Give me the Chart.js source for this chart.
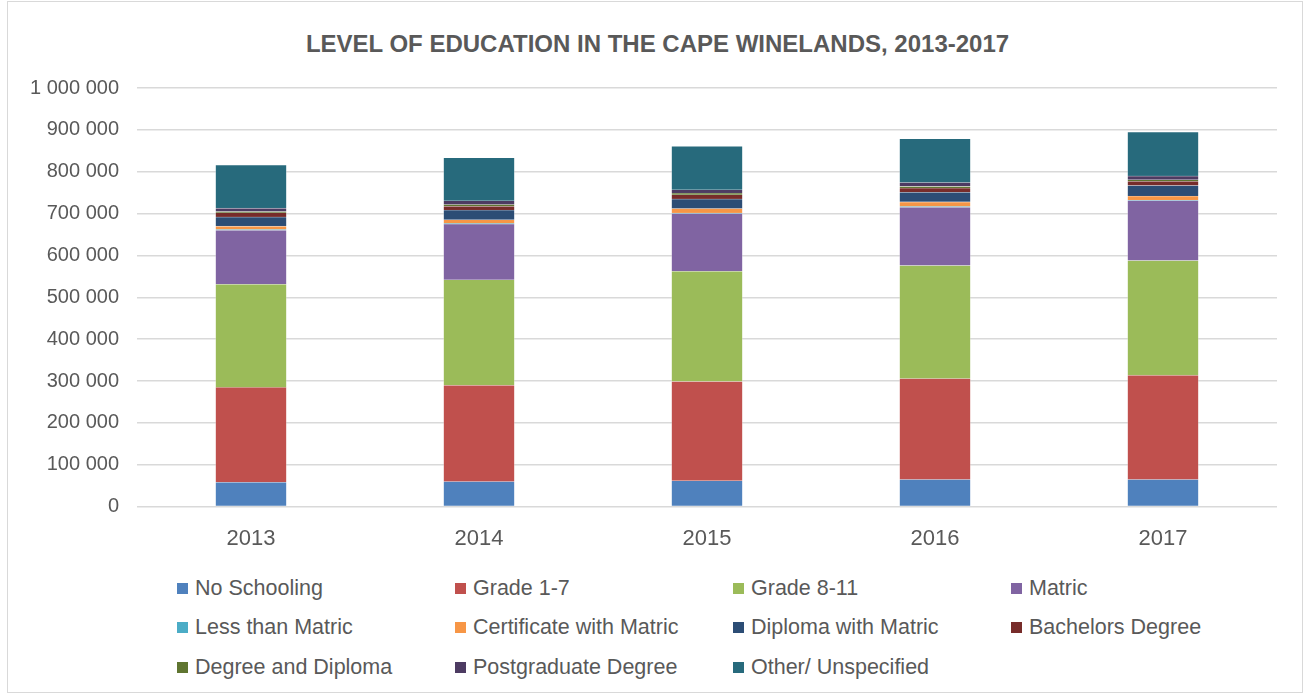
<!DOCTYPE html>
<html>
<head>
<meta charset="utf-8">
<script src="https://cdn.jsdelivr.net/npm/chart.js@4.4.1/dist/chart.umd.min.js"></script>
<style>
  html, body { margin: 0; padding: 0; background: #fff; }
  body { width: 1311px; height: 696px; position: relative; overflow: hidden; font-family: "Liberation Sans", Arial, sans-serif; }
  #frame { position: absolute; left: 7px; top: 1px; width: 1296px; height: 692px; border: 1px solid #d9d9d9; box-sizing: border-box; }
  #title { position: absolute; left: 0; top: 30px; width: 1315px; text-align: center; font-size: 24px; line-height: 28.8px; font-weight: bold; color: #595959; white-space: nowrap; }
  #wrap { position: absolute; left: 0; top: 0; width: 1311px; height: 571px; }
  #legend { position: absolute; left: 177px; top: 574px; display: grid; grid-template-columns: 278px 278px 278px 278px; grid-auto-rows: 39.5px; }
  .item { display: flex; align-items: center; height: 28px; color: #595959; font-size: 21.5px; white-space: nowrap; }
  .box { width: 11px; height: 11px; margin-right: 7px; flex: none; }
</style>
</head>
<body>
<div id="frame"></div>
<div id="title">LEVEL OF EDUCATION IN THE CAPE WINELANDS, 2013-2017</div>
<div id="wrap"><canvas id="c"></canvas></div>
<div id="legend"></div>
<script>
const categories = ["2013", "2014", "2015", "2016", "2017"];
const seriesNames = ["No Schooling", "Grade 1-7", "Grade 8-11", "Matric", "Less than Matric", "Certificate with Matric", "Diploma with Matric", "Bachelors Degree", "Degree and Diploma", "Postgraduate Degree", "Other/ Unspecified"];
const noSchooling   = [58000, 60000, 62000, 65000, 65000];
const grade1to7     = [227000, 230000, 237000, 241000, 249000];
const grade8to11    = [246000, 252000, 263000, 270000, 274000];
const matric        = [129000, 133000, 138000, 139000, 143000];
const lessThanMatric= [2000, 1500, 1500, 2000, 1500];
const certificate   = [8000, 9000, 10500, 11000, 9500];
const diploma       = [22000, 23000, 23000, 23000, 25000];
const bachelors     = [10000, 9000, 10000, 10000, 10000];
const degreeDiploma = [3000, 4000, 4000, 4000, 4000];
const postgraduate  = [8000, 9000, 8000, 9000, 9000];
const other         = [103000, 103000, 104000, 105000, 105000];
const yTicks = [0, 100000, 200000, 300000, 400000, 500000, 600000, 700000, 800000, 900000, 1000000];

const seriesValues = [noSchooling, grade1to7, grade8to11, matric, lessThanMatric, certificate, diploma, bachelors, degreeDiploma, postgraduate, other];
const colors = ["#4F81BD", "#C0504D", "#9BBB59", "#8064A2", "#4BACC6", "#F79646", "#2C4D75", "#772C2A", "#5F7530", "#4D3B62", "#276A7C"];

const fmt = v => String(v).replace(/\B(?=(\d{3})+(?!\d))/g, ' ');

const datasets = seriesNames.map((n, i) => ({
  label: n,
  data: seriesValues[i],
  backgroundColor: colors[i],
  borderColor: 'rgba(255,255,255,0.35)',
  borderWidth: 0.6,
  barThickness: 71
}));

new Chart(document.getElementById('c'), {
  type: 'bar',
  data: { labels: categories, datasets },
  options: {
    responsive: true,
    maintainAspectRatio: false,
    animation: false,
    layout: { padding: { left: 0, right: 34, top: 88, bottom: 0 } },
    plugins: {
      legend: { display: false },
      tooltip: { enabled: false },
      title: { display: false }
    },
    scales: {
      x: {
        stacked: true,
        grid: { display: false, drawTicks: false },
        border: { display: false },
        ticks: { color: '#595959', font: { family: '"Liberation Sans", Arial, sans-serif', size: 22 }, padding: 19 }
      },
      y: {
        stacked: true,
        min: 0, max: 1000000,
        afterBuildTicks: s => { s.ticks = yTicks.map(v => ({ value: v })); },
        afterFit: s => { s.width = 137; },
        grid: { color: '#d9d9d9', lineWidth: 1.5, drawTicks: false },
        border: { display: false },
        ticks: { color: '#595959', font: { family: '"Liberation Sans", Arial, sans-serif', size: 20 }, padding: 18, callback: v => fmt(v) }
      }
    }
  }
});

const leg = document.getElementById('legend');
seriesNames.forEach((n, i) => {
  const d = document.createElement('div');
  d.className = 'item';
  const b = document.createElement('span');
  b.className = 'box';
  b.style.background = colors[i];
  const t = document.createElement('span');
  t.textContent = n;
  d.appendChild(b); d.appendChild(t);
  leg.appendChild(d);
});
</script>
</body>
</html>
